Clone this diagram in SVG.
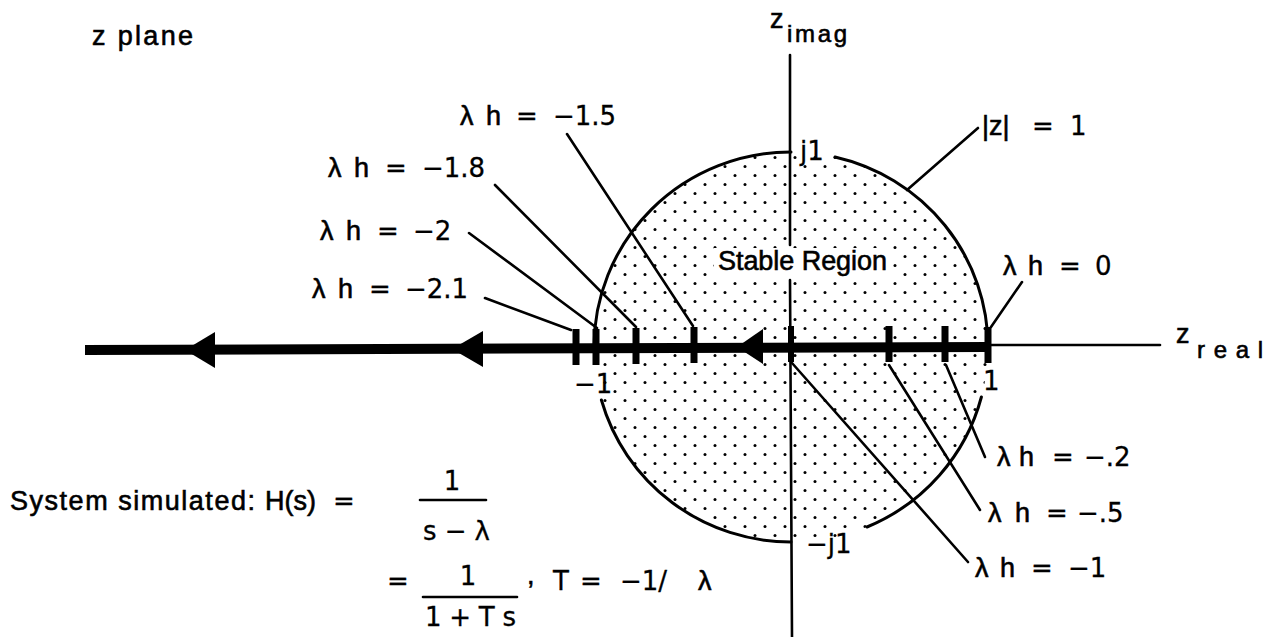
<svg xmlns="http://www.w3.org/2000/svg" width="1274" height="637" viewBox="0 0 1274 637">
<defs>
<pattern id="dots" x="0" y="0" width="20" height="18" patternUnits="userSpaceOnUse">
<circle cx="5" cy="4.5" r="1.5" fill="#000"/>
<circle cx="15" cy="13.5" r="1.5" fill="#000"/>
</pattern>
<style>
text{font-family:"Liberation Sans","DejaVu Sans",sans-serif;font-size:27px;fill:#000;stroke:#000;stroke-width:0.6}
.d{font-family:"DejaVu Sans","Liberation Sans",sans-serif;font-size:26px;stroke-width:0.3}
.sub{font-size:24px}
.ln{stroke:#000;stroke-width:2.6;fill:none;stroke-linecap:round}
.arc{stroke:#000;stroke-width:3;fill:none;stroke-linecap:round}
.tick{fill:#000}
.bk{fill:#fff;stroke:none}
</style>
</defs>
<rect width="1274" height="637" fill="#fff"/>

<g id="stable-region">
<ellipse cx="791" cy="347" rx="197" ry="195" fill="url(#dots)"/>
<rect class="bk" x="714" y="248" width="176" height="28"/>
<rect class="bk" x="572" y="368" width="30" height="30"/>
<path class="arc" d="M 791 152 A 197 195 0 0 0 594 347"/>
<path class="arc" d="M 601.4 400 A 197 195 0 0 0 791 542"/>
<path class="arc" d="M 867 527 A 197 195 0 0 0 981.4 397"/>
<path class="arc" d="M 988 347 A 197 195 0 0 0 835 157"/>
<text x="718" y="270" textLength="169" lengthAdjust="spacing">Stable Region</text>
</g>

<g id="axes">
<line class="ln" x1="790" y1="55" x2="790" y2="245"/>
<line class="ln" x1="790" y1="280" x2="792" y2="637"/>
<line class="ln" x1="988" y1="345" x2="1160" y2="345"/>
<path d="M 85 345 L 988 342 L 988 352 L 85 355 Z" fill="#000"/>
</g>

<g id="arrows">
<polygon points="185,350 215,332 215,368" fill="#000"/>
<polygon points="452,349 483,331 483,367" fill="#000"/>
<polygon points="737,347 763,329 763,364" fill="#000"/>
</g>

<g id="ticks">
<rect class="tick" x="572.5" y="329" width="7" height="36"/>
<rect class="tick" x="592.5" y="329" width="7" height="36"/>
<rect class="tick" x="632.5" y="328" width="7" height="36"/>
<rect class="tick" x="690.5" y="327" width="7" height="36"/>
<rect class="tick" x="788" y="326" width="6" height="36"/>
<rect class="tick" x="885.5" y="326" width="7" height="36"/>
<rect class="tick" x="941.5" y="326" width="7" height="36"/>
<rect class="tick" x="984.5" y="327" width="7" height="36"/>
</g>

<g id="connectors">
<line class="ln" x1="567" y1="134" x2="693" y2="326"/>
<line class="ln" x1="495" y1="185" x2="636" y2="327"/>
<line class="ln" x1="469" y1="233" x2="597" y2="328"/>
<line class="ln" x1="485" y1="298" x2="571" y2="330"/>
<line class="ln" x1="978" y1="128" x2="907" y2="190"/>
<line class="ln" x1="1022" y1="282" x2="991" y2="327"/>
<line class="ln" x1="946" y1="365" x2="985" y2="457"/>
<line class="ln" x1="889" y1="365" x2="980" y2="510"/>
<line class="ln" x1="792" y1="363" x2="968" y2="562"/>
</g>

<g id="axis-labels">
<text x="92" y="45" textLength="101" lengthAdjust="spacing">z plane</text>
<text x="770" y="28">z</text>
<text class="sub" x="787" y="42" textLength="60" lengthAdjust="spacing">imag</text>
<text x="1176" y="343">z</text>
<text class="sub" x="1197" y="358" textLength="66" lengthAdjust="spacing">real</text>
<text class="d" x="800" y="160">j1</text>
<text class="d" x="806" y="553">−j1</text>
<text class="d" x="574" y="393">−1</text>
<text class="d" x="983" y="390">1</text>
<text x="982" y="135">|z|</text>
<text class="d" x="1032" y="135">=</text>
<text class="d" x="1070" y="135">1</text>
</g>

<g id="lambda-labels">
<g id="lh-15"><text x="460" y="125"><tspan x="460">λ</tspan><tspan x="486">h</tspan></text><text class="d" x="516" y="125"><tspan x="516">=</tspan><tspan x="553">−1.5</tspan></text></g>
<g id="lh-18"><text x="328" y="177"><tspan x="328">λ</tspan><tspan x="354">h</tspan></text><text class="d" x="385" y="177"><tspan x="385">=</tspan><tspan x="422">−1.8</tspan></text></g>
<g id="lh-2"><text x="320" y="240"><tspan x="320">λ</tspan><tspan x="346">h</tspan></text><text class="d" x="377" y="240"><tspan x="377">=</tspan><tspan x="413">−2</tspan></text></g>
<g id="lh-21"><text x="312" y="298"><tspan x="312">λ</tspan><tspan x="338">h</tspan></text><text class="d" x="369" y="298"><tspan x="369">=</tspan><tspan x="405">−2.1</tspan></text></g>
<g id="lh-0"><text x="1003" y="275"><tspan x="1003">λ</tspan><tspan x="1028">h</tspan></text><text class="d" x="1059" y="275"><tspan x="1059">=</tspan><tspan x="1095">0</tspan></text></g>
<g id="lh-02"><text x="997" y="466"><tspan x="997">λ</tspan><tspan x="1019">h</tspan></text><text class="d" x="1052" y="466"><tspan x="1052">=</tspan><tspan x="1084">−.2</tspan></text></g>
<g id="lh-05"><text x="988" y="522"><tspan x="988">λ</tspan><tspan x="1015">h</tspan></text><text class="d" x="1046" y="522"><tspan x="1046">=</tspan><tspan x="1077">−.5</tspan></text></g>
<g id="lh-1"><text x="975" y="577"><tspan x="975">λ</tspan><tspan x="1000">h</tspan></text><text class="d" x="1031" y="577"><tspan x="1031">=</tspan><tspan x="1068">−1</tspan></text></g>
</g>

<g id="formula">
<text x="10" y="510" textLength="245" lengthAdjust="spacing">System simulated:</text>
<text x="265" y="510">H(s)</text>
<text class="d" x="333" y="510">=</text>
<text class="d" x="452" y="490" text-anchor="middle">1</text>
<line class="ln" x1="420" y1="500" x2="486" y2="500"/>
<text class="d" x="423" y="540" textLength="67" lengthAdjust="spacing">s − λ</text>
<text class="d" x="387" y="590">=</text>
<text class="d" x="468" y="585" text-anchor="middle">1</text>
<line class="ln" x1="423" y1="597" x2="517" y2="597"/>
<text class="d" x="425" y="626" textLength="91" lengthAdjust="spacing">1 + T s</text>
<text x="527" y="584">,</text>
<text class="d" x="553" y="590"><tspan x="553">T</tspan><tspan x="580">=</tspan><tspan x="620">−1/</tspan></text>
<text x="698" y="590">λ</text>
</g>
</svg>
